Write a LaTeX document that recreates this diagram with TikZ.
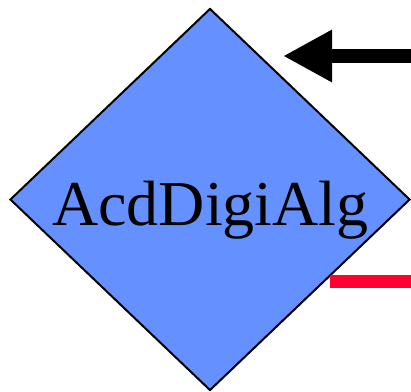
\documentclass[tikz,border=0pt]{standalone}
\usepackage{fontspec}
\setmainfont{Liberation Serif}
\usetikzlibrary{shapes.geometric,arrows.meta}
\definecolor{boxblue}{RGB}{100,145,255}
\definecolor{portred}{RGB}{255,0,48}
\tikzset{
  algbox/.style={diamond, draw=black, line width=2pt, fill=boxblue, inner sep=0pt, minimum width=400pt, minimum height=382pt},
  inport/.style={line width=14pt, -{Triangle[length=49pt,width=49pt]}},
  outport/.style={line width=13pt, draw=portred},
}
\begin{document}
\begin{tikzpicture}[x=1pt,y=-1pt]
\useasboundingbox (0,0) rectangle (411,391);
\node[algbox] (alg) at (210,199.5) {};
\node[anchor=base, font=\fontsize{64pt}{70pt}\selectfont, inner sep=0pt] (lbl) at (210.5,225) {AcdDigiAlg};
\coordinate (inS) at (411,56);
\coordinate (inE) at (283,56);
\draw[inport] (inS) -- (inE);
\coordinate (outS) at (330,281.5);
\coordinate (outE) at (411,281.5);
\draw[outport] (outS) -- (outE);
\end{tikzpicture}
\end{document}
